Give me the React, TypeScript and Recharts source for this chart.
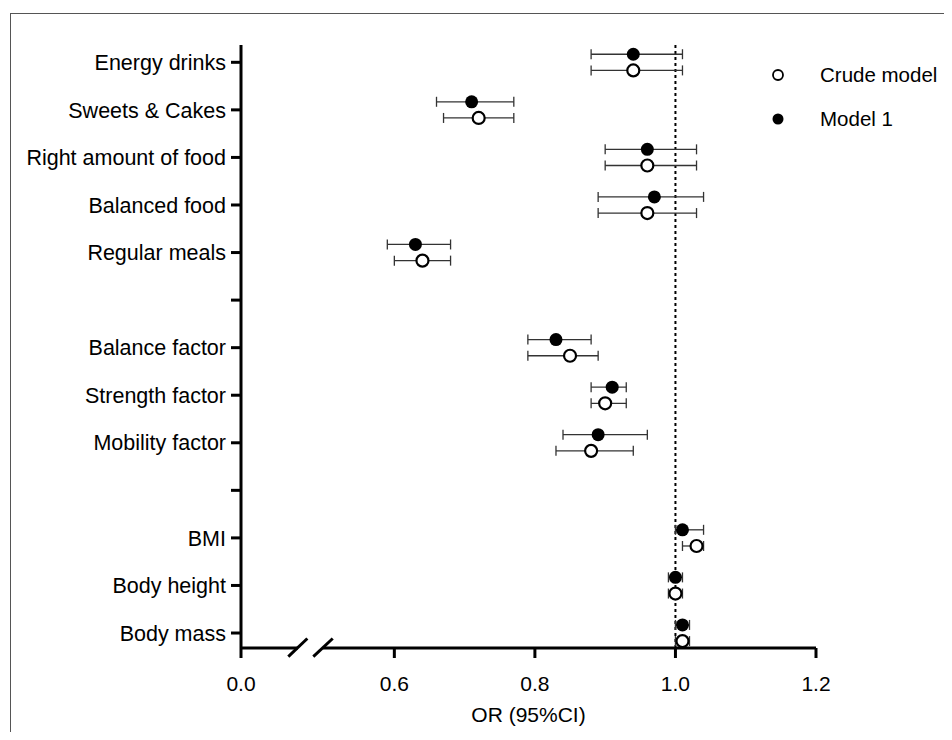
import { ScatterChart, Scatter, XAxis, YAxis, ErrorBar, ReferenceLine, Legend } from 'recharts';

// rows top to bottom, blank strings are spacer rows
const rowLabels = [
  'Energy drinks',
  'Sweets & Cakes',
  'Right amount of food',
  'Balanced food',
  'Regular meals',
  '',
  'Balance factor',
  'Strength factor',
  'Mobility factor',
  '',
  'BMI',
  'Body height',
  'Body mass',
];

const categories = [
  'Energy drinks',
  'Sweets & Cakes',
  'Right amount of food',
  'Balanced food',
  'Regular meals',
  'Balance factor',
  'Strength factor',
  'Mobility factor',
  'BMI',
  'Body height',
  'Body mass',
];

const model1OR = [0.94, 0.71, 0.96, 0.97, 0.63, 0.83, 0.91, 0.89, 1.01, 1.0, 1.01];
const model1Low = [0.88, 0.66, 0.9, 0.89, 0.59, 0.79, 0.88, 0.84, 1.0, 0.99, 1.0];
const model1High = [1.01, 0.77, 1.03, 1.04, 0.68, 0.88, 0.93, 0.96, 1.04, 1.01, 1.02];

const crudeOR = [0.94, 0.72, 0.96, 0.96, 0.64, 0.85, 0.9, 0.88, 1.03, 1.0, 1.01];
const crudeLow = [0.88, 0.67, 0.9, 0.89, 0.6, 0.79, 0.88, 0.83, 1.01, 0.99, 1.0];
const crudeHigh = [1.01, 0.77, 1.03, 1.03, 0.68, 0.89, 0.93, 0.94, 1.04, 1.01, 1.02];

const xTicks = [0.3818, 0.6, 0.8, 1.0, 1.2];
const xTickLabels = ['0.0', '0.6', '0.8', '1.0', '1.2'];

const X_START = xTicks[0];
const X_END = 1.2;
const Y_MIN = -0.315;
const Y_MAX = 12.364;
const ROW_SHIFT = 0.17;

const rowOf = (name: string) => rowLabels.length - 1 - rowLabels.indexOf(name);

const model1Data = categories.map((c, i) => ({
  name: c,
  x: model1OR[i],
  y: rowOf(c) + ROW_SHIFT,
  err: [model1OR[i] - model1Low[i], model1High[i] - model1OR[i]],
}));

const crudeData = categories.map((c, i) => ({
  name: c,
  x: crudeOR[i],
  y: rowOf(c) - ROW_SHIFT,
  err: [crudeOR[i] - crudeLow[i], crudeHigh[i] - crudeOR[i]],
}));

const yTicks = rowLabels.map((_, i) => i);

const FilledDot = (props: any) => <circle cx={props.cx} cy={props.cy} r={6.5} fill="#000" />;
const OpenDot = (props: any) => (
  <circle cx={props.cx} cy={props.cy} r={6} fill="#fff" stroke="#000" strokeWidth={2.2} />
);

const LegendBox = () => (
  <div style={{ fontSize: 20.5, color: '#000' }}>
    {[
      { label: 'Crude model', open: true },
      { label: 'Model 1', open: false },
    ].map((it) => (
      <div key={it.label} style={{ display: 'flex', alignItems: 'center', height: 44 }}>
        <svg width={20} height={20} style={{ marginRight: 32 }}>
          {it.open ? (
            <circle cx={10} cy={10} r={5} fill="#fff" stroke="#000" strokeWidth={1.8} />
          ) : (
            <circle cx={10} cy={10} r={5.5} fill="#000" />
          )}
        </svg>
        <span>{it.label}</span>
      </div>
    ))}
  </div>
);

export default function App() {
  return (
    <div style={{ position: 'relative', width: 944, height: 724, fontFamily: '"Liberation Sans", Arial, sans-serif' }}>
      <div
        style={{
          position: 'absolute',
          left: 2,
          top: 5,
          right: 0,
          bottom: -8,
          borderTop: '1.5px solid #555',
          borderLeft: '1.5px solid #555',
        }}
      />
      <ScatterChart width={944} height={724} margin={{ top: 37, right: 136, bottom: 0, left: 0 }}>
        <XAxis
          type="number"
          dataKey="x"
          domain={[X_START, X_END]}
          ticks={xTicks}
          tickFormatter={(v) => xTickLabels[xTicks.indexOf(v)] ?? v.toFixed(1)}
          allowDataOverflow
          height={84}
          axisLine={false}
          tickSize={10}
          tickMargin={18}
          tickLine={{ stroke: '#000', strokeWidth: 3 }}
          tick={{ fill: '#000', fontSize: 21 }}
          label={{ value: 'OR (95%CI)', position: 'insideBottom', offset: 10, fill: '#000', fontSize: 21 }}
        />
        <YAxis
          type="number"
          dataKey="y"
          domain={[Y_MIN, Y_MAX]}
          ticks={yTicks}
          tickFormatter={(v) => rowLabels[rowLabels.length - 1 - v]}
          allowDataOverflow
          width={233}
          axisLine={{ stroke: '#000', strokeWidth: 3 }}
          tickSize={10}
          tickMargin={5}
          tickLine={{ stroke: '#000', strokeWidth: 3 }}
          tick={{ fill: '#000', fontSize: 21.5 }}
        />
        {/* broken x axis */}
        <ReferenceLine
          segment={[{ x: X_START, y: Y_MIN }, { x: 0.4629, y: Y_MIN }]}
          stroke="#000"
          strokeWidth={3}
        />
        <ReferenceLine
          segment={[{ x: 0.4985, y: Y_MIN }, { x: X_END, y: Y_MIN }]}
          stroke="#000"
          strokeWidth={3}
        />
        <ReferenceLine
          segment={[{ x: 0.4491, y: Y_MIN - 0.18 }, { x: 0.4762, y: Y_MIN + 0.2 }]}
          stroke="#000"
          strokeWidth={3}
          ifOverflow="visible"
        />
        <ReferenceLine
          segment={[{ x: 0.4847, y: Y_MIN - 0.18 }, { x: 0.5123, y: Y_MIN + 0.2 }]}
          stroke="#000"
          strokeWidth={3}
          ifOverflow="visible"
        />
        <ReferenceLine x={1} stroke="#000" strokeWidth={2} strokeDasharray="3 3" />
        <Scatter name="Crude model" data={crudeData} shape={OpenDot} isAnimationActive={false}>
          <ErrorBar dataKey="err" direction="x" width={5} stroke="#333" strokeWidth={1.3} />
        </Scatter>
        <Scatter name="Model 1" data={model1Data} shape={FilledDot} isAnimationActive={false}>
          <ErrorBar dataKey="err" direction="x" width={5} stroke="#333" strokeWidth={1.3} />
        </Scatter>
        <Legend
          layout="horizontal"
          align="center"
          verticalAlign="middle"
          content={LegendBox}
          wrapperStyle={{ left: 760, top: 45, width: 180 }}
        />
      </ScatterChart>
    </div>
  );
}
